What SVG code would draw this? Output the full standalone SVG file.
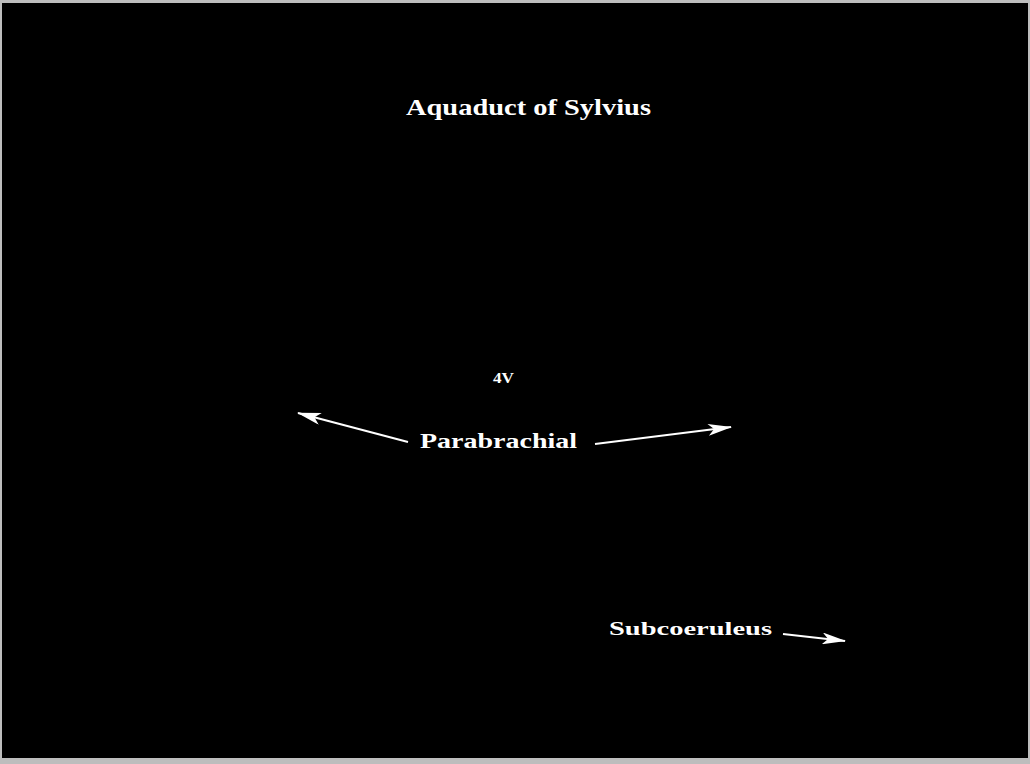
<svg xmlns="http://www.w3.org/2000/svg" width="1030" height="764" viewBox="0 0 1030 764">
<defs>
<style>
.lbl{font-family:"Liberation Serif","DejaVu Serif",serif;font-weight:bold;fill:#fff;}
.ln{stroke:#fff;stroke-width:2;fill:none;}
</style>
<marker id="ahb" viewBox="0 0 24 12" refX="23" refY="6" markerWidth="24" markerHeight="12" orient="auto" markerUnits="userSpaceOnUse">
<path d="M0,0 L24,6 L0,12 L6,6 Z" fill="#fff"/>
</marker>
</defs>
<rect x="0" y="0" width="1030" height="764" fill="#bdbdbd"/>
<rect x="2" y="3" width="1026" height="755" fill="#000"/>
<g id="aquaduct"><text class="lbl" x="406" y="115" font-size="23" textLength="245" lengthAdjust="spacingAndGlyphs">Aquaduct of Sylvius</text></g>
<g id="v4"><text class="lbl" x="493" y="383" font-size="15" textLength="21" lengthAdjust="spacingAndGlyphs">4V</text></g>
<g id="parabrachial"><text class="lbl" x="420" y="448" font-size="22" textLength="157" lengthAdjust="spacingAndGlyphs">Parabrachial</text></g>
<g id="subcoeruleus"><text class="lbl" x="609" y="635" font-size="19" textLength="163" lengthAdjust="spacingAndGlyphs">Subcoeruleus</text></g>
<g id="connectors">
<line class="ln" x1="408" y1="442" x2="298" y2="413" marker-end="url(#ahb)"/>
<line class="ln" x1="595" y1="444" x2="731" y2="427" marker-end="url(#ahb)"/>
<line class="ln" x1="783" y1="634" x2="845" y2="641" marker-end="url(#ahb)"/>
</g>
</svg>
